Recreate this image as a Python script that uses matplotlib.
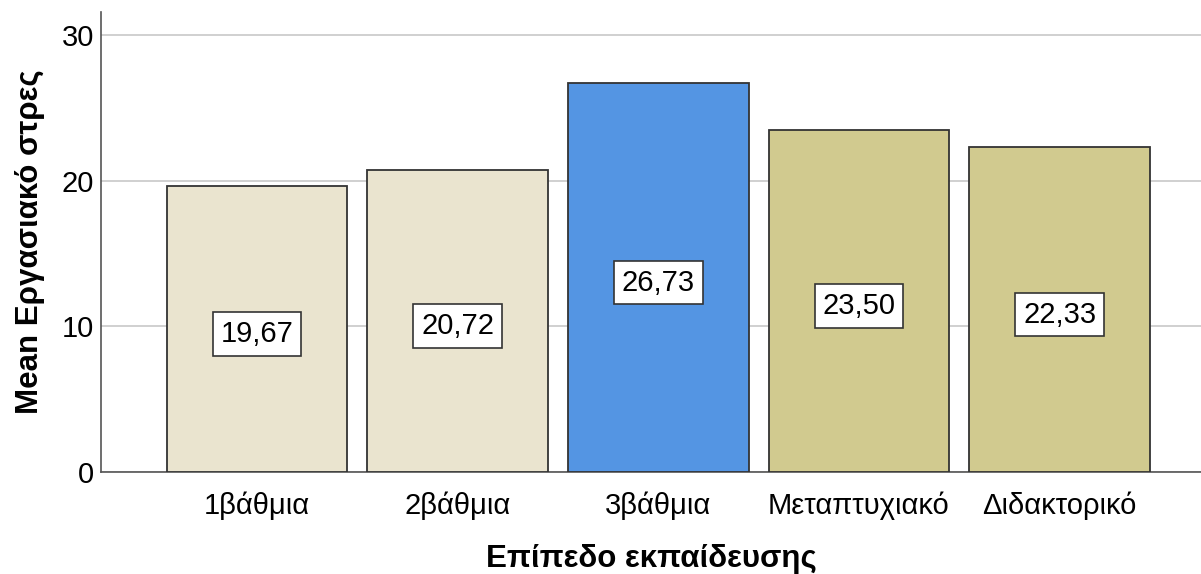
import numpy as np
import matplotlib.pyplot as plt

plt.rcParams['font.family'] = ['Liberation Sans', 'DejaVu Sans']

# mean work stress by education level
levels = ['1βάθμια', '2βάθμια', '3βάθμια', 'Μεταπτυχιακό', 'Διδακτορικό']
means = [19.67, 20.72, 26.73, 23.50, 22.33]
colors = ['#EAE4CF', '#EAE4CF', '#5495E3', '#D1CA8F', '#D1CA8F']

fig = plt.figure(figsize=(12.01, 5.74), dpi=100)
ax = fig.add_axes([0.0841, 0.1777, 0.9159, 0.8013])

x = np.arange(len(levels))
bars = ax.bar(x, means, width=0.9, color=colors, edgecolor='#333333',
              linewidth=1.3, zorder=3)

for b, v in zip(bars, means):
    ax.text(b.get_x() + b.get_width() / 2, v / 2 - 0.35, f'{v:.2f}'.replace('.', ','),
            ha='center', va='center', fontsize=21, zorder=4,
            bbox=dict(boxstyle='square,pad=0.27', fc='white', ec='#333333', lw=1.2))

ax.set_xlim(-0.778, 4.705)
ax.set_ylim(0, 31.6)
ax.set_yticks([0, 10, 20, 30])
ax.set_xticks(x)
ax.set_xticklabels(levels)
ax.tick_params(axis='both', length=0, labelsize=21, colors='black')
ax.tick_params(axis='x', pad=14)
ax.tick_params(axis='y', pad=5)
ax.yaxis.grid(True, color='#C8C8C8', linewidth=1.2, zorder=0)
ax.set_axisbelow(True)

for s in ['top', 'right']:
    ax.spines[s].set_visible(False)
for s in ['left', 'bottom']:
    ax.spines[s].set_color('#555555')
    ax.spines[s].set_linewidth(1.2)

ax.set_xlabel('Επίπεδο εκπαίδευσης', fontsize=22.5, fontweight='bold', labelpad=17)
ax.set_ylabel('Mean Εργασιακό στρες', fontsize=22.5, fontweight='bold', labelpad=12)

fig.savefig('out.png', dpi=100)
